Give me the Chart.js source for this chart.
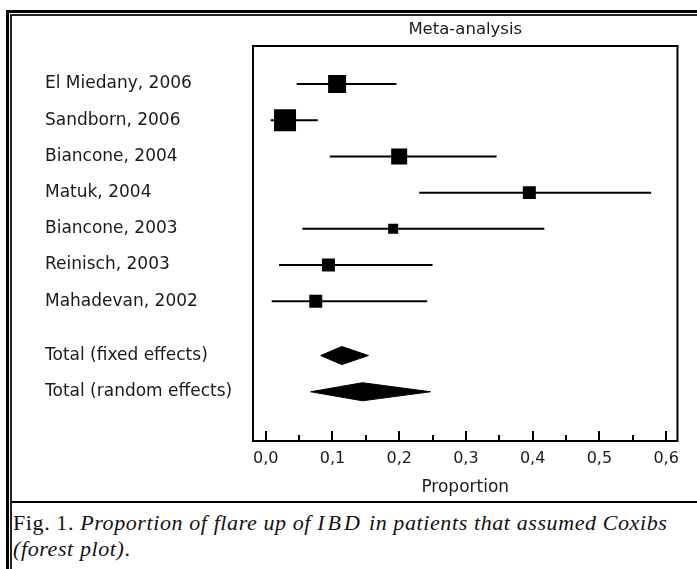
<!DOCTYPE html>
<html>
<head>
<meta charset="utf-8">
<script src="https://cdn.jsdelivr.net/npm/chart.js@4.4.1/dist/chart.umd.min.js"></script>
<style>
    html, body { margin: 0; padding: 0; background: #fff; width: 697px; height: 569px; overflow: hidden; }
    .frame-out { position: absolute; left: 6px; top: 10px; width: 720px; height: 600px; border-left: 3px solid #000; border-top: 3px solid #000; }
    .frame-in { position: absolute; left: 10px; top: 14px; width: 720px; height: 600px; border-left: 2px solid #222; border-top: 2px solid #222; }
    .sep { position: absolute; left: 11px; top: 501px; width: 700px; height: 2px; background: #000; }
    #wrap { position: absolute; left: 0; top: 0; width: 697px; height: 500px; }
    .caption { position: absolute; left: 13px; top: 510px; font-family: "Liberation Serif", "Times New Roman", serif; font-size: 22px; line-height: 26px; letter-spacing: 0.6px; color: #111; white-space: nowrap; }
    .caption i { font-style: italic; }
</style>
</head>
<body>
<div class="frame-out"></div>
<div class="frame-in"></div>
<div id="wrap"><canvas id="forest"></canvas></div>
<div class="sep"></div>
<div class="caption">Fig. 1. <i>Proportion of flare up of <span style="letter-spacing:3px">IBD</span> in patients that assumed Coxibs</i><br><i>(forest plot)</i>.</div>

<script>
/* Forest plot – proportion of IBD flare up with Coxibs */
const studies = ['El Miedany, 2006', 'Sandborn, 2006', 'Biancone, 2004', 'Matuk, 2004', 'Biancone, 2003', 'Reinisch, 2003', 'Mahadevan, 2002'];
const estimates = [0.107, 0.029, 0.200, 0.395, 0.191, 0.094, 0.075];
const lowerCI = [0.0465, 0.0075, 0.096, 0.230, 0.055, 0.020, 0.009];
const upperCI = [0.196, 0.078, 0.346, 0.5775, 0.4175, 0.250, 0.242];
const weights = [19.4, 29.0, 15.3, 10.1, 6.0, 10.1, 10.1];

const totals = ['Total (fixed effects)', 'Total (random effects)'];
const totalEst = [0.114, 0.145];
const totalLow = [0.0824, 0.0674];
const totalHigh = [0.154, 0.247];

const rowPos = [0, 1, 2, 3, 4, 5, 6, 7.5, 8.5];
const rowLabels = studies.concat(totals);

const xMajor = [0, 0.1, 0.2, 0.3, 0.4, 0.5, 0.6];
const xLabels = ['0,0', '0,1', '0,2', '0,3', '0,4', '0,5', '0,6'];
const xMinor = [0.05, 0.15, 0.25, 0.35, 0.45, 0.55];

const FONT = '"DejaVu Sans", "Liberation Sans", Arial, sans-serif';
const TXT = '#1a1a1a';

const datasets = [];

// CI whiskers, one short line per study
studies.forEach((s, i) => {
    datasets.push({
        type: 'scatter',
        data: [{ x: lowerCI[i], y: rowPos[i] }, { x: upperCI[i], y: rowPos[i] }],
        showLine: true,
        borderColor: '#000',
        borderWidth: 2,
        pointRadius: 0,
        fill: false,
    });
});

// point estimates, square area ~ weight
datasets.push({
    type: 'scatter',
    data: studies.map((s, i) => ({ x: estimates[i], y: rowPos[i] })),
    pointStyle: 'rect',
    pointRadius: weights.map(w => 4.085 * Math.sqrt(w) / Math.SQRT2),
    backgroundColor: '#000',
    borderColor: '#000',
    borderWidth: 0,
});

// pooled diamonds
totals.forEach((t, k) => {
    const y = rowPos[studies.length + k];
    datasets.push({
        type: 'scatter',
        data: [
            { x: totalLow[k], y },
            { x: totalEst[k], y: y - 0.25 },
            { x: totalHigh[k], y },
            { x: totalEst[k], y: y + 0.25 },
            { x: totalLow[k], y },
        ],
        showLine: true,
        fill: 'shape',
        backgroundColor: '#000',
        borderColor: '#000',
        borderWidth: 1,
        pointRadius: 0,
        tension: 0,
    });
});

const frameBox = {
    id: 'frameBox',
    afterDatasetsDraw(chart) {
        const { ctx, chartArea: a } = chart;
        const xs = chart.scales.x;
        ctx.save();
        ctx.strokeStyle = '#000';
        ctx.lineWidth = 2;
        ctx.strokeRect(a.left, a.top, a.right - a.left, a.bottom - a.top);
        // inward tick marks
        ctx.beginPath();
        xMajor.forEach(v => {
            const px = Math.round(xs.getPixelForValue(v));
            ctx.moveTo(px, a.bottom); ctx.lineTo(px, a.bottom - 10);
        });
        xMinor.forEach(v => {
            const px = Math.round(xs.getPixelForValue(v));
            ctx.moveTo(px, a.bottom); ctx.lineTo(px, a.bottom - 6);
        });
        ctx.stroke();
        ctx.restore();
    }
};

new Chart(document.getElementById('forest'), {
    type: 'scatter',
    data: { datasets },
    options: {
        responsive: true,
        maintainAspectRatio: false,
        animation: false,
        events: [],
        layout: { padding: { left: 45, right: 19.5, top: 0, bottom: 0 } },
        plugins: { legend: { display: false }, tooltip: { enabled: false } },
        scales: {
            x: {
                type: 'linear', position: 'bottom', min: -0.019, max: 0.617,
                afterBuildTicks: s => { s.ticks = xMajor.map(v => ({ value: v })); },
                afterFit: s => { s.height = 59; },
                ticks: { autoSkip: false, maxRotation: 0, padding: 8, color: TXT, font: { family: FONT, size: 16 }, callback: (v, i) => xLabels[i] },
                grid: { display: false, drawTicks: false },
                border: { display: false },
                title: { display: true, text: 'Proportion', color: TXT, font: { family: FONT, size: 17 }, padding: { top: 0, bottom: 2 } },
            },
            xTop: {
                type: 'linear', position: 'top', axis: 'x', min: 0, max: 1,
                afterFit: s => { s.height = 46; },
                ticks: { display: false },
                grid: { display: false, drawTicks: false },
                border: { display: false },
                title: { display: true, text: 'Meta-analysis', color: TXT, font: { family: FONT, size: 16.5 }, padding: { top: 20, bottom: 0 } },
            },
            y: {
                type: 'linear', min: -1.05, max: 9.86, reverse: true,
                afterBuildTicks: s => { s.ticks = rowPos.map(v => ({ value: v })); },
                afterFit: s => { s.width = 208; },
                ticks: { autoSkip: false, crossAlign: 'far', color: TXT, font: { family: FONT, size: 17 }, callback: (v, i) => rowLabels[i] },
                grid: { display: false, drawTicks: false },
                border: { display: false },
            }
        }
    },
    plugins: [frameBox]
});
</script>
</body>
</html>
